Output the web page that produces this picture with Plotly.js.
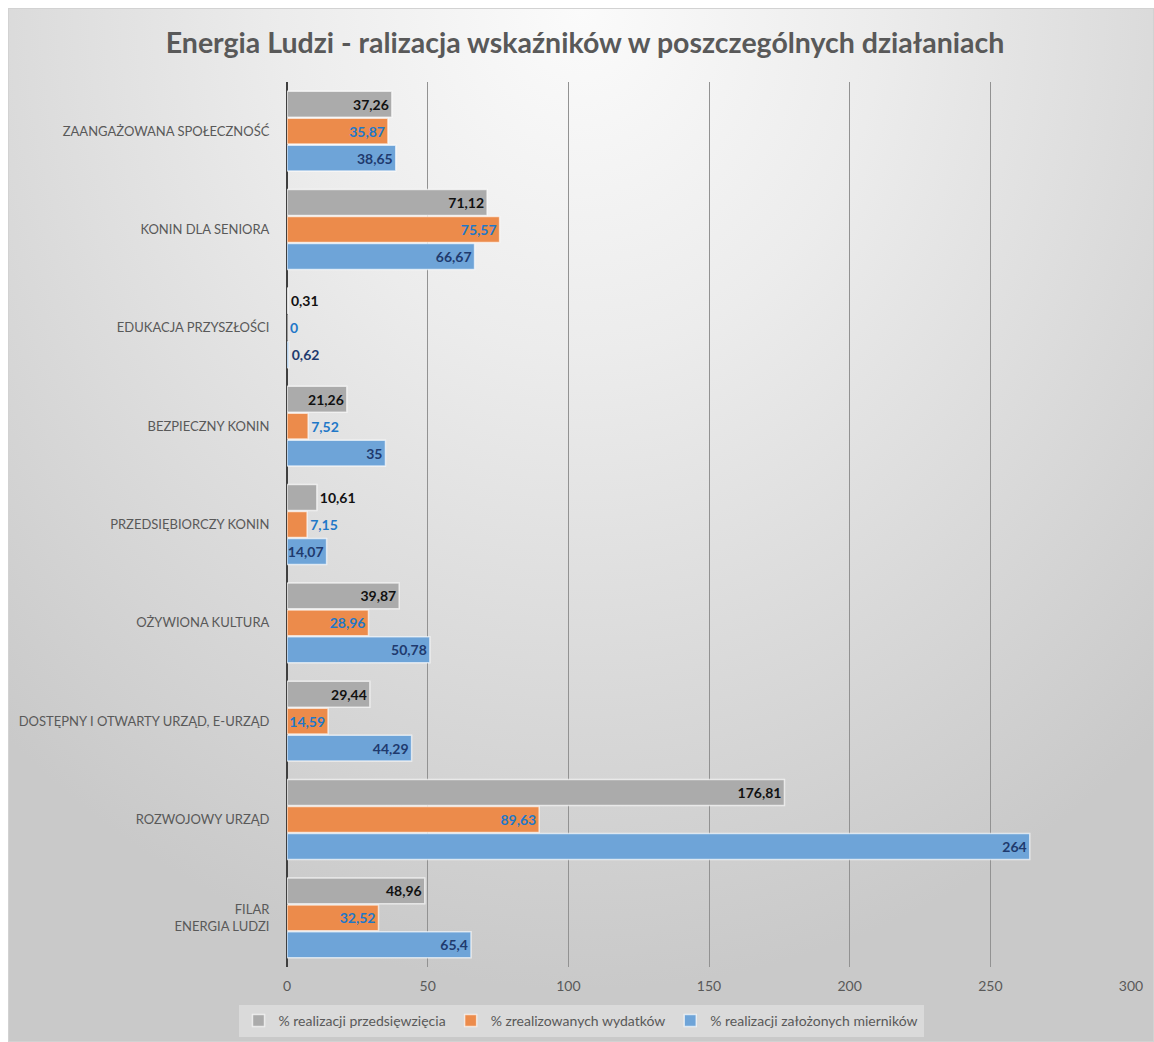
<!DOCTYPE html>
<html>
<head>
<meta charset="utf-8">
<script src="https://cdn.plot.ly/plotly-3.0.1.min.js"></script>
<style>
  html, body { margin: 0; padding: 0; background: #ffffff; }
  #bg {
    position: absolute; left: 8px; top: 8px; width: 1144px; height: 1032px;
    border: 1px solid #d2d2d2;
    background: radial-gradient(ellipse 75% 95% at 50% 0%, #fbfbfb 0%, #ececec 35%, #d9d9d9 70%, #c9c9c9 100%);
  }
  #chart { position: absolute; left: 0; top: 0; width: 1154px; height: 1042px; }
</style>
</head>
<body>
<div id="bg"></div>
<div id="chart"></div>
<script>
// ---- data ----
const categories = [
  "ZAANGAŻOWANA SPOŁECZNOŚĆ",
  "KONIN DLA SENIORA",
  "EDUKACJA PRZYSZŁOŚCI",
  "BEZPIECZNY KONIN",
  "PRZEDSIĘBIORCZY KONIN",
  "OŻYWIONA KULTURA",
  "DOSTĘPNY I OTWARTY URZĄD, E-URZĄD",
  "ROZWOJOWY URZĄD",
  "FILAR<br>ENERGIA LUDZI"
];
const seriesNames = [
  "% realizacji przedsięwzięcia",
  "% zrealizowanych wydatków",
  "% realizacji założonych mierników"
];
const przedsiewziecia = [37.26, 71.12, 0.31, 21.26, 10.61, 39.87, 29.44, 176.81, 48.96];
const wydatki         = [35.87, 75.57, 0,    7.52,  7.15,  28.96, 14.59, 89.63,  32.52];
const mierniki        = [38.65, 66.67, 0.62, 35,    14.07, 50.78, 44.29, 264,    65.4];
const xTicks = [0, 50, 100, 150, 200, 250, 300];

// ---- styling ----
const barColors = ["#ababab", "#ec8b4b", "#6ea4d8"];
const labelColors = ["#111111", "#1f78c8", "#1f3a6e"];
const FONT = "Lato, 'Open Sans', sans-serif";

function labelText(vals) { return vals.map(v => String(v).replace('.', ',')); }
function labelPos(vals) { return vals.map(v => v < 12 ? 'outside' : 'inside'); }

const seriesValues = [przedsiewziecia, wydatki, mierniki];
const traces = seriesValues.map((vals, i) => ({
  type: 'bar',
  orientation: 'h',
  name: seriesNames[i],
  x: vals,
  y: categories,
  text: labelText(vals),
  textposition: labelPos(vals),
  insidetextanchor: 'end',
  constraintext: 'none',
  textangle: 0,
  cliponaxis: false,
  textfont: { family: FONT, size: 14, color: labelColors[i], weight: 'bold' },
  marker: { color: barColors[i], line: { color: 'rgba(255,255,255,0.65)', width: 1.5 } },
  hoverinfo: 'skip'
}));

const layout = {
  width: 1154,
  height: 1042,
  paper_bgcolor: 'rgba(0,0,0,0)',
  plot_bgcolor: 'rgba(0,0,0,0)',
  margin: { l: 287, r: 23, t: 82, b: 75 },
  font: { family: FONT, color: '#595959' },
  title: {
    text: '<b>Energia Ludzi - ralizacja wskaźników w poszczególnych działaniach</b>',
    font: { family: FONT, size: 28.5, color: '#595959' },
    xref: 'container', x: 585 / 1154, xanchor: 'center',
    yref: 'container', y: 1 - 43 / 1042, yanchor: 'middle'
  },
  barmode: 'group',
  bargap: 0.177,
  bargroupgap: 0.04,
  xaxis: {
    range: [0, 300],
    tickvals: xTicks,
    ticktext: xTicks.map(String),
    showgrid: true,
    gridcolor: '#929292',
    gridwidth: 1,
    zeroline: true,
    zerolinecolor: '#3f3f3f',
    zerolinewidth: 2,
    showline: false,
    ticks: 'outside', ticklen: 6, tickcolor: 'rgba(0,0,0,0)',
    tickfont: { family: FONT, size: 14, color: '#595959' },
    fixedrange: true
  },
  yaxis: {
    type: 'category',
    autorange: 'reversed',
    showgrid: false,
    zeroline: false,
    showline: false,
    ticks: 'outside', ticklen: 14, tickcolor: 'rgba(0,0,0,0)',
    tickfont: { family: FONT, size: 13, color: '#595959' },
    fixedrange: true
  },
  showlegend: true,
  legend: {
    orientation: 'h',
    xref: 'container', x: 581 / 1154, xanchor: 'center',
    yref: 'container', y: (1042 - 1021) / 1042, yanchor: 'middle',
    bgcolor: 'rgba(232,232,232,0.55)',
    borderwidth: 0,
    font: { family: FONT, size: 14, color: '#595959' },
    itemwidth: 30,
    traceorder: 'normal'
  }
};

Plotly.newPlot('chart', traces, layout, { displayModeBar: false, staticPlot: true });
</script>
</body>
</html>
